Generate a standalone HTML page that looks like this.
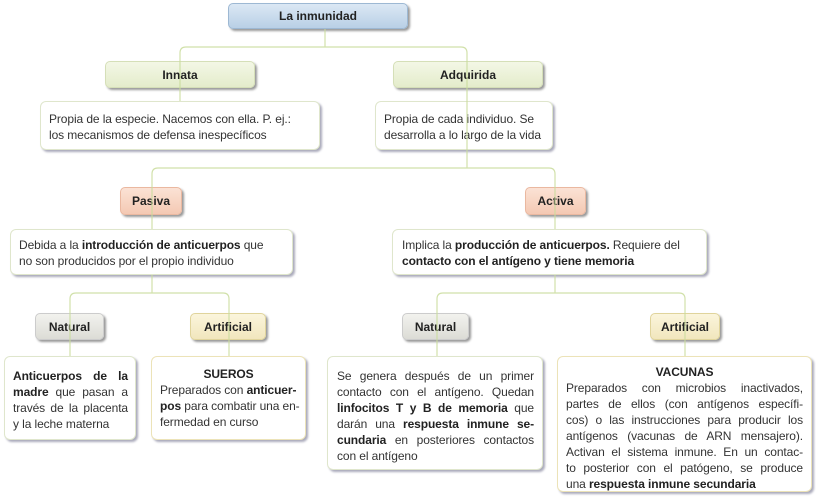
<!DOCTYPE html>
<html><head><meta charset="utf-8"><style>
body{margin:0;width:816px;height:497px;background:#fff;position:relative;overflow:hidden;font-family:"Liberation Sans",sans-serif;color:#333}
.b{position:absolute;box-sizing:border-box;border:1px solid #dfe6cc;border-radius:6px;background:#fff;box-shadow:2px 2px 2px #aab;font-size:12px;line-height:16px;letter-spacing:-0.1px;white-space:nowrap}
.j{display:block;text-align:justify;text-align-last:justify}
.e{display:block}
.l{position:absolute;box-sizing:border-box;border-radius:5px;font-weight:bold;font-size:12px;text-align:center;color:#222;box-shadow:2px 2px 2px #999;display:flex;align-items:center;justify-content:center}
.g{background:linear-gradient(#f3f7e6,#e4eccb);border:1px solid #d5dfb8}
.p{background:linear-gradient(#fbe2d5,#f4c9b3);border:1px solid #eab8a0}
.n{background:linear-gradient(#f2f2ee,#dcdcd6);border:1px solid #ccc}
.y{background:linear-gradient(#fbf5dc,#f1e6bd);border:1px solid #e0d49c}
b{color:#222}
svg{position:absolute;left:0;top:0;z-index:5;pointer-events:none}
</style></head><body>
<div class="l" style="left:228px;top:3px;width:180px;height:26px;background:linear-gradient(#dbe8f4,#b9d0e6);border:1px solid #9db8d3">La inmunidad</div>
<div class="l g" style="left:105px;top:61px;width:150px;height:27px">Innata</div>
<div class="l g" style="left:393px;top:61px;width:150px;height:27px">Adquirida</div>
<div class="b" style="left:40px;top:101px;width:280px;height:49px;padding:9px 8px"><span class="e">Propia de la especie. Nacemos con ella. P. ej.:</span><span class="e">los mecanismos de defensa inespecíficos</span></div>
<div class="b" style="left:375px;top:101px;width:178px;height:49px;padding:9px 8px"><span class="e">Propia de cada individuo. Se</span><span class="e">desarrolla a lo largo de la vida</span></div>
<div class="l p" style="left:120px;top:187px;width:62px;height:28px">Pasiva</div>
<div class="l p" style="left:525px;top:187px;width:61px;height:28px">Activa</div>
<div class="b" style="left:10px;top:229px;width:283px;height:46px;padding:7px 8px"><span class="e">Debida a la <b>introducción de anticuerpos</b> que</span><span class="e">no son producidos por el propio individuo</span></div>
<div class="b" style="left:392px;top:229px;width:315px;height:46px;padding:7px 9px"><span class="e">Implica la <b>producción de anticuerpos.</b> Requiere del</span><span class="e"><b>contacto con el antígeno y tiene memoria</b></span></div>
<div class="l n" style="left:35px;top:313px;width:69px;height:27px">Natural</div>
<div class="l y" style="left:190px;top:313px;width:76px;height:27px">Artificial</div>
<div class="l n" style="left:402px;top:313px;width:67px;height:27px">Natural</div>
<div class="l y" style="left:650px;top:313px;width:70px;height:27px">Artificial</div>
<div class="b" style="left:4px;top:356px;width:132px;height:84px;padding:11px 7px 0 8px"><span class="j"><b>Anticuerpos de la</b></span><span class="j"><b>madre</b> que pasan a</span><span class="j">través de la placenta</span><span class="e">y la leche materna</span></div>
<div class="b" style="left:151px;top:356px;width:155px;height:84px;padding:9px 8px;border-color:#ece3b8"><div style="text-align:center;font-weight:bold;color:#222">SUEROS</div><span class="e">Preparados con <b>anticuer-</b></span><span class="e"><b>pos</b> para combatir una en-</span><span class="e">fermedad en curso</span></div>
<div class="b" style="left:327px;top:356px;width:216px;height:114px;padding:11px 8px 0 9px"><span class="j">Se genera después de un primer</span><span class="j">contacto con el antígeno. Quedan</span><span class="j"><b>linfocitos T y B de memoria</b> que</span><span class="j">darán una <b>respuesta inmune se-</b></span><span class="j"><b>cundaria</b> en posteriores contactos</span><span class="e">con el antígeno</span></div>
<div class="b" style="left:557px;top:356px;width:255px;height:136px;padding:7px 8px 0 8px;border-color:#ece3b8"><div style="text-align:center;font-weight:bold;color:#222">VACUNAS</div><span class="j">Preparados con microbios inactivados,</span><span class="j">partes de ellos (con antígenos específi-</span><span class="j">cos) o las instrucciones para producir los</span><span class="j">antígenos (vacunas de ARN mensajero).</span><span class="j">Activan el sistema inmune. En un contac-</span><span class="j">to posterior con el patógeno, se produce</span><span class="e">una <b>respuesta inmune secundaria</b></span></div>
<svg width="816" height="497" fill="none" stroke="#c9dc9c" stroke-width="1.2" opacity="0.85">
<path d="M325 29V47M180 101V53Q180 47 186 47H461Q467 47 467 53V168"/>
<path d="M152 229V174Q152 168 158 168H549Q555 168 555 174V229"/>
<path d="M152 275V293M70 356V299Q70 293 76 293H223Q229 293 229 299V356"/>
<path d="M555 275V293M437 356V299Q437 293 443 293H679Q685 293 685 299V356"/>
</svg>
</body></html>
